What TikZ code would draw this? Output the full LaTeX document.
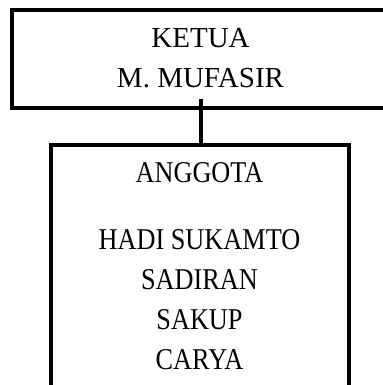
\documentclass[tikz,border=0pt]{standalone}
\usepackage{fontspec}
\setmainfont{Liberation Serif}
\newfontfamily\anggotafont[FakeStretch=0.87]{Liberation Serif}
\usetikzlibrary{positioning}

\begin{document}
\begin{tikzpicture}[font=\rmfamily]
	\tikzstyle{ketuaStyle}=[shape = rectangle, draw, line width = 2pt, inner sep = 0pt, minimum width = 188.5pt, minimum height = 48.75pt, text depth = 1.5pt, align = center, font = \fontsize{14.5pt}{20pt}\selectfont]
	\tikzstyle{anggotaStyle}=[shape = rectangle, draw, line width = 2pt, inner xsep = 0pt, inner ysep = 9pt, minimum width = 149pt, text depth = 8.25pt, align = center, font = \anggotafont\fontsize{15.1pt}{20pt}\selectfont]
	\tikzstyle{EdgeStyle}=[line width = 2pt]
	\useasboundingbox (0,0) rectangle (191.5pt,-192.5pt);
	\clip (0,0) rectangle (191.5pt,-192.5pt);
	\node[ketuaStyle] (ketua) at (100.25pt,-29.625pt) {KETUA\\M. MUFASIR};
	\node[anggotaStyle, anchor = north] (anggota) at (99.75pt,-71.5pt) {ANGGOTA\\[13.15pt]HADI SUKAMTO\\SADIRAN\\SAKUP\\CARYA};
	\coordinate (stem) at (100.5pt,-49.5pt);
	\draw[EdgeStyle] (stem) -- (stem |- anggota.north);
\end{tikzpicture}
\end{document}
